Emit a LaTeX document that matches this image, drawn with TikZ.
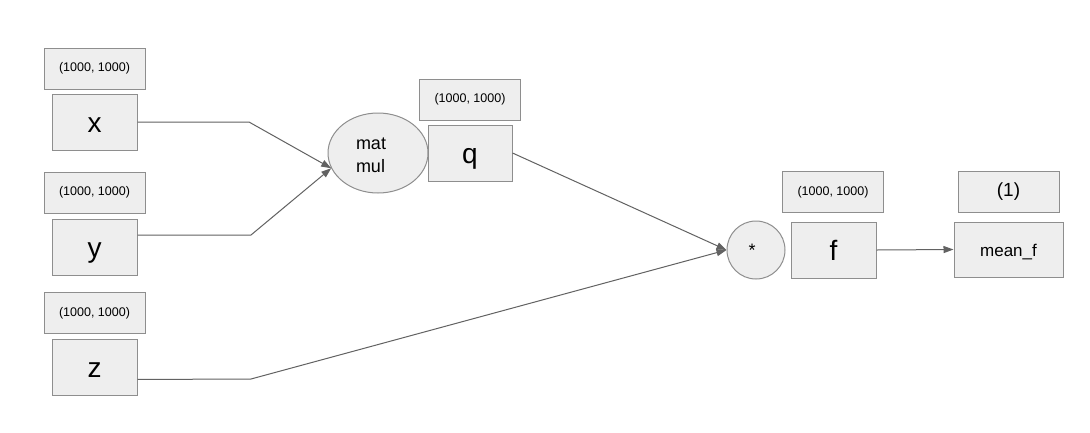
\documentclass[tikz,border=0pt]{standalone}
\usepackage{fontspec}
\setmainfont{Liberation Sans}
\usetikzlibrary{arrows.meta,shapes.geometric,calc}
\definecolor{boxfill}{HTML}{EEEEEE}
\definecolor{boxline}{HTML}{8E8E8E}
\definecolor{wire}{HTML}{626262}

\begin{document}
\begin{tikzpicture}[x=1pt,y=-1pt,
  shapebox/.style={draw=boxline, fill=boxfill, line width=1pt, inner sep=0pt},
  dimbox/.style={shapebox, minimum width=101pt, minimum height=41pt,
                 font=\fontsize{12.5}{14}\selectfont},
  varbox/.style={shapebox, minimum width=85pt, minimum height=56pt,
                 text height=20pt, text depth=0pt,
                 font=\fontsize{28}{30}\selectfont},
  opnode/.style={shapebox, font=\fontsize{18}{23}\selectfont},
  wireline/.style={draw=wire, line width=1pt},
  wirearrow/.style={wireline, -{Triangle[length=10pt,width=7pt]}}
]
\useasboundingbox[fill=white] (0,0) rectangle (1090,432);

% inputs with their shapes
\node[dimbox] (xdim) at (94.5,68.5) {(1000, 1000)};
\node[varbox] (x) at (94.5,122) {x};
\node[dimbox] (ydim) at (94.5,192.5) {(1000, 1000)};
\node[varbox] (y) at (94.5,247) {y};
\node[dimbox] (zdim) at (94.5,313) {(1000, 1000)};
\node[varbox] (z) at (94.5,367.5) {z};

% matmul and its result
\node[opnode, ellipse, minimum width=100pt, minimum height=80pt,
      label={[opnode, draw=none, fill=none, align=left, xshift=-7pt, yshift=-2pt]center:mat\\mul}]
      (mm) at (378,153) {};
\node[dimbox] (qdim) at (470,99.5) {(1000, 1000)};
\node[varbox, minimum width=84pt] (q) at (470,153) {q};

% elementwise product and its result
\node[opnode, circle, minimum size=58pt, text height=12pt] (mul) at (756,250) {\hspace*{-8pt}*};
\node[dimbox] (fdim) at (833,192) {(1000, 1000)};
\node[varbox] (f) at (833.5,250) {f};

% mean
\node[dimbox, font=\fontsize{19}{21}\selectfont] (mdim) at (1008.5,192) {(1)};
\node[varbox, minimum width=109pt, minimum height=55pt, text height=13pt,
      font=\fontsize{17}{19}\selectfont] (mean) at (1008.5,249.5) {mean\_f};

% bends of the input wires
\coordinate (ys) at ($(y.north east)!0.29!(y.south east)$);
\coordinate (zs) at ($(z.north east)!0.71!(z.south east)$);
\coordinate (xb) at (249,122);
\coordinate (yb) at (251,235);
\coordinate (zb) at (251,379);

\draw[wirearrow] (x.east) -- (xb) -- (mm.198);
\draw[wirearrow] (ys) -- (yb) -- (mm.198);
\draw[wirearrow] (q.east) -- (mul.west);
\draw[wirearrow] (zs) -- (zb) -- (mul.west);
\draw[wirearrow] (f.east) -- (mean.west);
\end{tikzpicture}
\end{document}
